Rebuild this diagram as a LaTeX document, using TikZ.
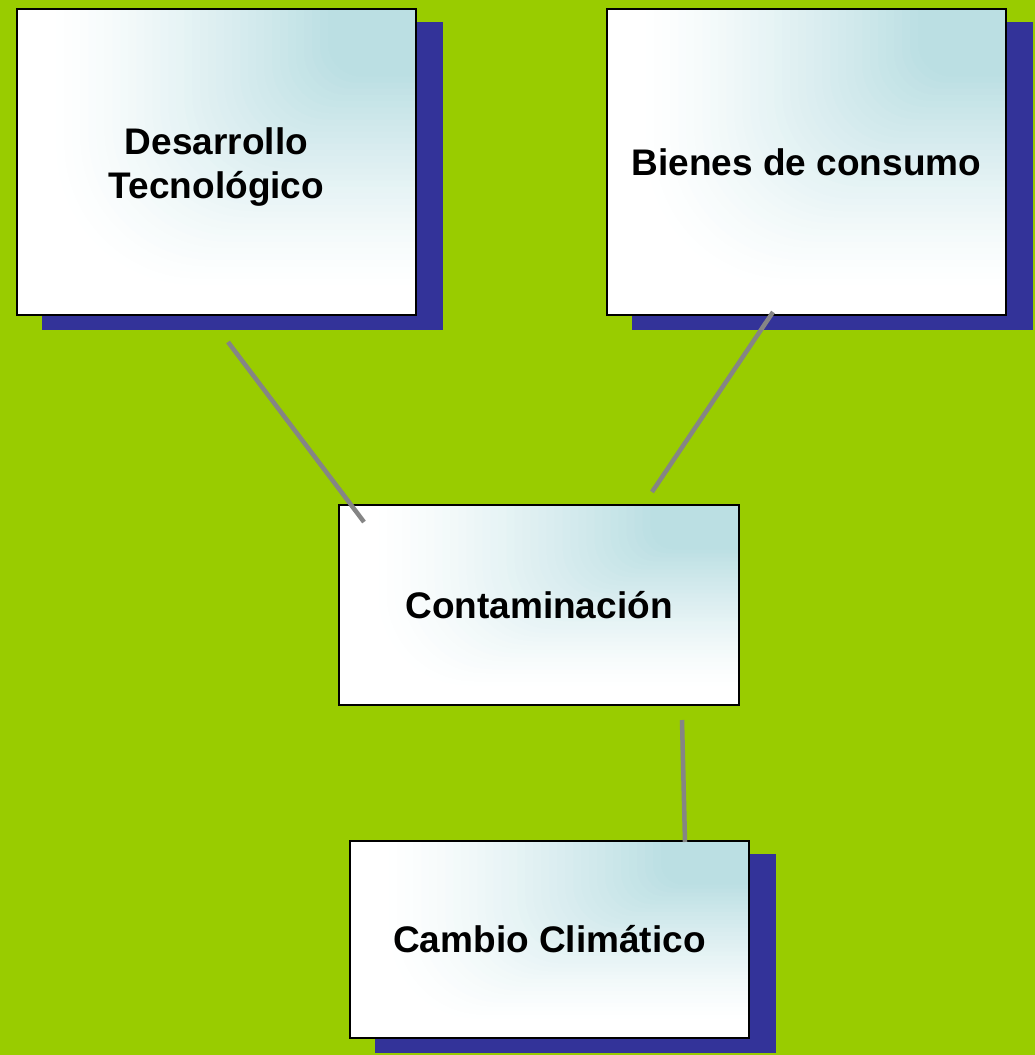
\documentclass[tikz,border=0pt]{standalone}
\usepackage{fontspec}
\setmainfont{Liberation Sans}
\usetikzlibrary{shadows}
\definecolor{bggreen}{HTML}{99CC00}
\definecolor{shadowblue}{HTML}{333399}
\definecolor{boxcyan}{HTML}{BBDFE3}
\definecolor{linegray}{HTML}{858585}
\tikzset{
  box/.style 2 args={draw=black, line width=2pt, fill=white,
    minimum width=#1pt, minimum height=#2pt, inner sep=0pt, align=center,
    font=\fontsize{37}{44}\selectfont\bfseries,
    path picture={
      \foreach \s [evaluate=\s as \p using {100*(max(0.001,min(1,(0.92-\s)/0.7)))^1.3},
                   evaluate=\s as \r using {0.5*\s*#2}]
        in {0.90,0.88,...,0.22}
        \fill[boxcyan!\p!white, rounded corners=\r pt]
          ([shift={(-\s*#1pt,-\s*#2pt)}]path picture bounding box.north east)
          rectangle ([shift={(\s*#1pt,\s*#2pt)}]path picture bounding box.north east);
    }},
  shadowed/.style={drop shadow={shadow xshift=26pt, shadow yshift=-14pt,
    fill=shadowblue, draw=shadowblue, line width=2pt, opacity=1}},
  conn/.style={draw=linegray, line width=4.5pt}
}
\begin{document}
\begin{tikzpicture}[x=1pt, y=-1pt]
  \useasboundingbox (0,0) rectangle (1035,1055);
  \fill[bggreen] (0,0) rectangle (1035,1055);
  \node[box={399}{306}, shadowed] (des) at (216.5,162)
    {\rule{0pt}{37pt}Desarrollo\\Tecnológico};
  \node[box={399}{306}, shadowed] (bie) at (806.5,162) {Bienes de consumo};
  \node[box={400}{200}] (con) at (539,605) {Contaminación};
  \node[box={399}{197}, shadowed] (cam) at (549.5,939.5) {Cambio Climático};
  \coordinate (c1a) at (228,342);
  \coordinate (c1b) at (364,522);
  \coordinate (c2a) at (773,312);
  \coordinate (c2b) at (652,492);
  \coordinate (c3a) at (682,720);
  \coordinate (c3b) at (685,842);
  \draw[conn] (c1a) -- (c1b);
  \draw[conn] (c2a) -- (c2b);
  \draw[conn] (c3a) -- (c3b);
\end{tikzpicture}
\end{document}
